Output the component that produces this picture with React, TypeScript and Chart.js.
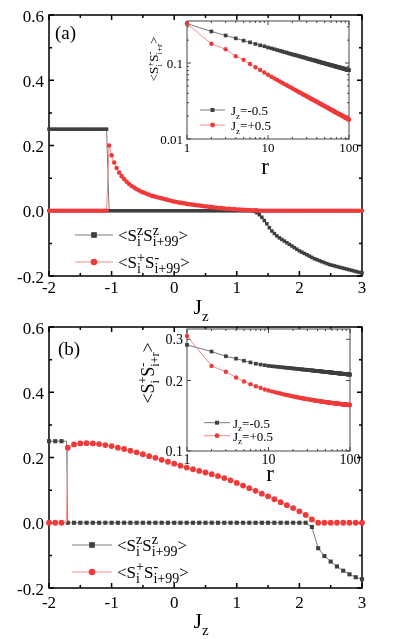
import React, { useEffect, useRef } from 'react';
import { Chart, registerables } from 'chart.js';
Chart.register(...registerables);

const FONT = '"Liberation Serif","Times New Roman",Times,serif';
const BLACK = '#3f3f3f';
const BLACK_LINE = '#7a7a7a';
const RED = '#f03a3a';
const RED_LINE = '#f58a8a';

// ---------- Panel (a) main: Jz grid (step 0.04) ----------
const jzA: number[] = Array.from({ length: 126 }, (_, k) => +(-2 + 0.04 * k).toFixed(2));
const szA: number[] = [
  0.25, 0.25, 0.25, 0.25, 0.25, 0.25, 0.25, 0.25, 0.25, 0.25, 0.25, 0.25,
  0.25, 0.25, 0.25, 0.25, 0.25, 0.25, 0.25, 0.25, 0.25, 0.25, 0.25, 0.25,
  0, 0, 0, 0, 0, 0, 0, 0, 0, 0,
  0, 0, 0, 0, 0, 0, 0, 0, 0, 0,
  0, 0, 0, 0, 0, 0, 0, 0, 0, 0,
  0, 0, 0, 0, 0, 0, 0, 0, 0, 0,
  0, 0, 0, 0, 0, 0, 0, 0, 0, 0,
  0, 0, 0, 0, 0, 0, 0, 0,
  -0.002, -0.006, -0.012, -0.020, -0.030, -0.040, -0.052, -0.062, -0.070, -0.077,
  -0.083, -0.088, -0.093, -0.098, -0.103, -0.108, -0.113, -0.118, -0.123, -0.127,
  -0.131, -0.135, -0.139, -0.143, -0.147, -0.150, -0.153, -0.156, -0.159, -0.162,
  -0.165, -0.167, -0.169, -0.171, -0.173, -0.175, -0.177, -0.179, -0.181, -0.183,
  -0.185, -0.187, -0.189, -0.191,
];
const spA: number[] = [
  0, 0, 0, 0, 0, 0, 0, 0, 0, 0,
  0, 0, 0, 0, 0, 0, 0, 0, 0, 0,
  0, 0, 0, 0,
  0.200, 0.170, 0.148, 0.131, 0.117, 0.106, 0.097, 0.089, 0.082, 0.076,
  0.071, 0.066, 0.062, 0.058, 0.055, 0.052, 0.049, 0.046, 0.044, 0.042,
  0.040, 0.038, 0.036, 0.034, 0.032, 0.030, 0.028, 0.027, 0.025, 0.024,
  0.023, 0.021, 0.020, 0.019, 0.018, 0.017, 0.016, 0.015, 0.014, 0.013,
  0.012, 0.011, 0.010, 0.009, 0.008, 0.008, 0.007, 0.006, 0.006, 0.005,
  0.005, 0.004, 0.004, 0.003, 0.003, 0.002, 0.002, 0.001, 0.001, 0.001,
  0, 0, 0, 0, 0, 0, 0, 0, 0, 0,
  0, 0, 0, 0, 0, 0, 0, 0, 0, 0,
  0, 0, 0, 0, 0, 0, 0, 0, 0, 0,
  0, 0, 0, 0, 0, 0, 0, 0, 0, 0,
  0, 0,
];

// ---------- Panel (b) main ----------
const jzB: number[] = [
  -2, -1.9, -1.8, -1.72, -1.7, -1.6, -1.5, -1.4, -1.3, -1.2, -1.1, -1, -0.9, -0.8, -0.7, -0.6,
  -0.5, -0.4, -0.3, -0.2, -0.1, 0, 0.1, 0.2, 0.3, 0.4, 0.5, 0.6, 0.7, 0.8, 0.9, 1, 1.1, 1.2,
  1.3, 1.4, 1.5, 1.6, 1.7, 1.8, 1.9, 2, 2.1, 2.2, 2.3, 2.4, 2.5, 2.6, 2.7, 2.8, 2.9, 3,
];
const szB: number[] = [
  0.25, 0.25, 0.25, 0.25,
  0, 0, 0, 0, 0, 0, 0, 0, 0, 0,
  0, 0, 0, 0, 0, 0, 0, 0, 0, 0,
  0, 0, 0, 0, 0, 0, 0, 0, 0, 0,
  0, 0, 0, 0, 0, 0, 0, 0, 0,
  -0.013, -0.078, -0.102, -0.119, -0.134, -0.147, -0.158, -0.167, -0.173,
];
const spB: number[] = [
  0, 0, 0, 0,
  0.230, 0.240, 0.243, 0.244, 0.243, 0.241, 0.238, 0.235, 0.230, 0.226,
  0.221, 0.216, 0.210, 0.204, 0.199, 0.193, 0.187, 0.181, 0.175, 0.169,
  0.164, 0.159, 0.154, 0.149, 0.143, 0.137, 0.130, 0.122, 0.114, 0.106,
  0.098, 0.089, 0.081, 0.072, 0.063, 0.054, 0.045, 0.035, 0.024, 0.010,
  0, 0, 0, 0, 0, 0, 0, 0,
];

// ---------- Insets: r = 1..100 ----------
const rInset: number[] = Array.from({ length: 100 }, (_, i) => i + 1);
const insetA_neg: number[] = [
  0.330, 0.260, 0.230, 0.211, 0.197, 0.187, 0.178, 0.171, 0.166, 0.160,
  0.156, 0.152, 0.148, 0.145, 0.142, 0.139, 0.137, 0.134, 0.132, 0.130,
  0.128, 0.127, 0.125, 0.123, 0.122, 0.120, 0.119, 0.118, 0.117, 0.115,
  0.114, 0.113, 0.112, 0.111, 0.110, 0.109, 0.108, 0.108, 0.107, 0.106,
  0.105, 0.104, 0.104, 0.103, 0.102, 0.101, 0.101, 0.100, 0.0995, 0.0989,
  0.0983, 0.0977, 0.0972, 0.0966, 0.0961, 0.0956, 0.0951, 0.0946, 0.0941, 0.0937,
  0.0932, 0.0928, 0.0924, 0.0920, 0.0916, 0.0911, 0.0907, 0.0903, 0.0899, 0.0895,
  0.0891, 0.0888, 0.0884, 0.0881, 0.0877, 0.0874, 0.0870, 0.0867, 0.0863, 0.0860,
  0.0857, 0.0854, 0.0851, 0.0848, 0.0845, 0.0841, 0.0838, 0.0835, 0.0832, 0.0829,
  0.0826, 0.0824, 0.0821, 0.0819, 0.0816, 0.0814, 0.0811, 0.0809, 0.0806, 0.0804,
];
const insetA_pos: number[] = [
  0.330, 0.179, 0.152, 0.123, 0.110, 0.097, 0.088, 0.081, 0.075, 0.070,
  0.0658, 0.0625, 0.0597, 0.0572, 0.0549, 0.0528, 0.0510, 0.0493, 0.0478, 0.0463,
  0.0450, 0.0438, 0.0427, 0.0416, 0.0406, 0.0397, 0.0388, 0.0380, 0.0373, 0.0366,
  0.0358, 0.0352, 0.0345, 0.0339, 0.0334, 0.0328, 0.0323, 0.0318, 0.0313, 0.0309,
  0.0304, 0.0300, 0.0296, 0.0292, 0.0288, 0.0284, 0.0281, 0.0277, 0.0274, 0.0271,
  0.0268, 0.0265, 0.0263, 0.0260, 0.0257, 0.0254, 0.0251, 0.0249, 0.0246, 0.0243,
  0.0241, 0.0239, 0.0237, 0.0235, 0.0232, 0.0230, 0.0228, 0.0226, 0.0224, 0.0222,
  0.0220, 0.0219, 0.0217, 0.0216, 0.0214, 0.0212, 0.0211, 0.0209, 0.0208, 0.0206,
  0.0205, 0.0203, 0.0202, 0.0200, 0.0199, 0.0198, 0.0196, 0.0195, 0.0193, 0.0192,
  0.0191, 0.0190, 0.0188, 0.0187, 0.0186, 0.0185, 0.0184, 0.0182, 0.0181, 0.0180,
];
const insetB_neg: number[] = [
  0.284, 0.266, 0.254, 0.248, 0.243, 0.239, 0.236, 0.234, 0.2325, 0.231,
  0.2302, 0.2295, 0.2288, 0.2282, 0.2277, 0.2271, 0.2266, 0.2261, 0.2257, 0.2253,
  0.2249, 0.2245, 0.2241, 0.2238, 0.2234, 0.2231, 0.2228, 0.2225, 0.2222, 0.2219,
  0.2217, 0.2214, 0.2211, 0.2209, 0.2207, 0.2204, 0.2202, 0.2200, 0.2198, 0.2196,
  0.2194, 0.2192, 0.2190, 0.2188, 0.2186, 0.2184, 0.2182, 0.2181, 0.2179, 0.2177,
  0.2176, 0.2174, 0.2172, 0.2171, 0.2169, 0.2168, 0.2166, 0.2165, 0.2164, 0.2162,
  0.2161, 0.2159, 0.2158, 0.2157, 0.2156, 0.2154, 0.2153, 0.2152, 0.2151, 0.2149,
  0.2148, 0.2147, 0.2146, 0.2145, 0.2144, 0.2143, 0.2142, 0.2140, 0.2139, 0.2138,
  0.2137, 0.2136, 0.2135, 0.2134, 0.2133, 0.2132, 0.2131, 0.2131, 0.2130, 0.2129,
  0.2128, 0.2127, 0.2126, 0.2125, 0.2124, 0.2123, 0.2123, 0.2122, 0.2121, 0.2120,
];
const insetB_pos: number[] = [
  0.310, 0.231, 0.218, 0.206, 0.198, 0.193, 0.189, 0.186, 0.183, 0.1814,
  0.1798, 0.1784, 0.1771, 0.1760, 0.1750, 0.1741, 0.1732, 0.1725, 0.1718, 0.1711,
  0.1705, 0.1699, 0.1694, 0.1689, 0.1685, 0.1680, 0.1676, 0.1672, 0.1669, 0.1665,
  0.1662, 0.1658, 0.1655, 0.1653, 0.1650, 0.1647, 0.1644, 0.1642, 0.1639, 0.1637,
  0.1635, 0.1633, 0.1631, 0.1629, 0.1627, 0.1625, 0.1623, 0.1622, 0.1620, 0.1618,
  0.1617, 0.1615, 0.1614, 0.1612, 0.1611, 0.1610, 0.1608, 0.1607, 0.1605, 0.1604,
  0.1603, 0.1602, 0.1601, 0.1600, 0.1598, 0.1597, 0.1596, 0.1595, 0.1594, 0.1593,
  0.1592, 0.1591, 0.1590, 0.1589, 0.1589, 0.1588, 0.1587, 0.1586, 0.1585, 0.1584,
  0.1583, 0.1583, 0.1582, 0.1581, 0.1581, 0.1580, 0.1579, 0.1578, 0.1578, 0.1577,
  0.1576, 0.1576, 0.1575, 0.1575, 0.1574, 0.1573, 0.1573, 0.1572, 0.1572, 0.1571,
];

// ---------- ticks ----------
const mainXMajor = [-2, -1, 0, 1, 2, 3];
const mainXLabels = ['-2', '-1', '0', '1', '2', '3'];
const mainXMinor = [-1.5, -0.5, 0.5, 1.5, 2.5];
const mainYMajor = [-0.2, 0, 0.2, 0.4, 0.6];
const mainYLabels = ['-0.2', '0.0', '0.2', '0.4', '0.6'];
const mainYMinor = [-0.1, 0.1, 0.3, 0.5];
const insetXMajor = [1, 10, 100];
const insetXLabels = ['1', '10', '100'];
const insetXMinor = [2, 3, 4, 5, 6, 7, 8, 9, 20, 30, 40, 50, 60, 70, 80, 90];
const insetAYMajor = [0.01, 0.1];
const insetAYLabels = ['0.01', '0.1'];
const insetAYMinor = [0.02, 0.03, 0.04, 0.05, 0.06, 0.07, 0.08, 0.09, 0.2, 0.3];
const insetBYMajor = [0.1, 0.2, 0.3];
const insetBYLabels = ['0.1', '0.2', '0.3'];
const insetBYMinor: number[] = [];

const legendMainZZ = '<S|i^z|S|i+99^z|>';
const legendMainPM = '<S|i^+|S|i+99^-|>';
const insetTitle = '<S|i^+|S|i+r^-|>';

type Seg = { t?: string; sub?: string; sup?: string };
function parseSegs(s: string): Seg[] {
  return s.split('|').map((p) => {
    if (p.includes('^')) {
      const [sub, sup] = p.split('^');
      return { sub, sup };
    }
    return { t: p };
  });
}

function drawRich(
  ctx: CanvasRenderingContext2D, segs: Seg[], x: number, y: number,
  size: number, sSize: number, align: 'left' | 'center' = 'left', color = '#000'
) {
  const fm = `${size}px ${FONT}`;
  const fs = `${sSize}px ${FONT}`;
  const widths = segs.map((s) => {
    if (s.t !== undefined) { ctx.font = fm; return ctx.measureText(s.t).width; }
    ctx.font = fs;
    return Math.max(s.sub ? ctx.measureText(s.sub).width : 0, s.sup ? ctx.measureText(s.sup).width : 0);
  });
  const total = widths.reduce((a, b) => a + b, 0);
  let cx = align === 'center' ? x - total / 2 : x;
  ctx.fillStyle = color;
  ctx.textAlign = 'left';
  ctx.textBaseline = 'alphabetic';
  segs.forEach((s, i) => {
    if (s.t !== undefined) { ctx.font = fm; ctx.fillText(s.t, cx, y); }
    else {
      ctx.font = fs;
      if (s.sup) ctx.fillText(s.sup, cx, y - 0.38 * size);
      if (s.sub) ctx.fillText(s.sub, cx, y + 0.3 * size);
    }
    cx += widths[i];
  });
}

function drawMarker(ctx: CanvasRenderingContext2D, kind: string, x: number, y: number, r: number, color: string) {
  ctx.fillStyle = color;
  if (kind === 'rect') {
    const h = r * Math.SQRT1_2;
    ctx.fillRect(x - h, y - h, 2 * h, 2 * h);
  } else {
    ctx.beginPath();
    ctx.arc(x, y, r, 0, Math.PI * 2);
    ctx.fill();
  }
}

function legendRow(
  ctx: CanvasRenderingContext2D, x1: number, x2: number, y: number, kind: string, r: number,
  color: string, lineColor: string, segs: Seg[], tx: number, baseline: number, size: number, sSize: number
) {
  ctx.strokeStyle = lineColor;
  ctx.lineWidth = 1;
  ctx.beginPath();
  ctx.moveTo(x1, y);
  ctx.lineTo(x2, y);
  ctx.stroke();
  drawMarker(ctx, kind, (x1 + x2) / 2, y, r, color);
  drawRich(ctx, segs, tx, baseline, size, sSize, 'left');
}

type Spec = {
  xMajor: number[]; xMinor: number[]; yMajor: number[]; yMinor: number[];
  xLabels: string[]; yLabels: string[];
  majorLen: number; minorLen: number; frameColor: string; frameWidth: number;
  labelSize: number; xLabelDy: number; yLabelDx: number; yLabelDy: number;
  fill: boolean;
  extra: (ctx: CanvasRenderingContext2D) => void;
};

function framePlugin(spec: Spec) {
  return {
    id: 'frameAxes',
    beforeDatasetsDraw(chart: any) {
      const { ctx, chartArea: a } = chart;
      const xs = chart.scales.x;
      const ys = chart.scales.y;
      ctx.save();
      if (spec.fill) {
        ctx.fillStyle = '#fff';
        ctx.fillRect(a.left, a.top, a.right - a.left, a.bottom - a.top);
      }
      ctx.strokeStyle = spec.frameColor;
      ctx.lineWidth = spec.frameWidth;
      ctx.beginPath();
      const vt = (vals: number[], len: number) => vals.forEach((v) => {
        const p = xs.getPixelForValue(v);
        ctx.moveTo(p, a.bottom); ctx.lineTo(p, a.bottom - len);
        ctx.moveTo(p, a.top); ctx.lineTo(p, a.top + len);
      });
      const ht = (vals: number[], len: number) => vals.forEach((v) => {
        const p = ys.getPixelForValue(v);
        ctx.moveTo(a.left, p); ctx.lineTo(a.left + len, p);
        ctx.moveTo(a.right, p); ctx.lineTo(a.right - len, p);
      });
      vt(spec.xMajor, spec.majorLen);
      vt(spec.xMinor, spec.minorLen);
      ht(spec.yMajor, spec.majorLen);
      ht(spec.yMinor, spec.minorLen);
      ctx.stroke();
      ctx.strokeRect(a.left, a.top, a.right - a.left, a.bottom - a.top);
      ctx.restore();
    },
    afterDatasetsDraw(chart: any) {
      const { ctx, chartArea: a } = chart;
      const xs = chart.scales.x;
      const ys = chart.scales.y;
      ctx.save();
      ctx.fillStyle = '#000';
      ctx.font = `${spec.labelSize}px ${FONT}`;
      ctx.textBaseline = 'alphabetic';
      ctx.textAlign = 'center';
      spec.xMajor.forEach((v, i) => ctx.fillText(spec.xLabels[i], xs.getPixelForValue(v), a.bottom + spec.xLabelDy));
      ctx.textAlign = 'right';
      spec.yMajor.forEach((v, i) => ctx.fillText(spec.yLabels[i], a.left - spec.yLabelDx, ys.getPixelForValue(v) + spec.yLabelDy));
      spec.extra(ctx);
      ctx.restore();
    },
  };
}

function series(xs: number[], ys: number[], color: string, lineColor: string, style: string, radius: any) {
  return {
    data: xs.map((x, i) => ({ x, y: ys[i] })),
    borderColor: lineColor,
    borderWidth: 1,
    pointStyle: style,
    pointRadius: radius,
    pointHoverRadius: 0,
    pointBackgroundColor: color,
    pointBorderColor: color,
    pointBorderWidth: 0,
    showLine: true,
    tension: 0,
    fill: false,
    clip: false,
  };
}

function makeChart(canvas: HTMLCanvasElement, datasets: any[], xScale: any, yScale: any, padding: any, spec: Spec) {
  return new Chart(canvas, {
    type: 'line',
    data: { datasets },
    options: {
      animation: false,
      responsive: false,
      maintainAspectRatio: false,
      events: [],
      layout: { padding },
      scales: { x: { ...xScale, display: false }, y: { ...yScale, display: false } },
      plugins: { legend: { display: false }, tooltip: { enabled: false } },
    } as any,
    plugins: [framePlugin(spec) as any],
  });
}

export default function App() {
  const refA = useRef<HTMLCanvasElement>(null);
  const refB = useRef<HTMLCanvasElement>(null);
  const refIA = useRef<HTMLCanvasElement>(null);
  const refIB = useRef<HTMLCanvasElement>(null);

  useEffect(() => {
    const charts: Chart[] = [];
    let alive = true;
    const mainX = { type: 'linear', min: -2, max: 3 };
    const mainY = { type: 'linear', min: -0.2, max: 0.6 };
    const mainSpecBase = {
      xMajor: mainXMajor, xMinor: mainXMinor, yMajor: mainYMajor, yMinor: mainYMinor,
      xLabels: mainXLabels, yLabels: mainYLabels, majorLen: 5, minorLen: 3,
      frameColor: '#000', frameWidth: 1.5, labelSize: 17, yLabelDx: 5, yLabelDy: 6.5, fill: false,
    };

    // Panel (a)
    charts.push(makeChart(
      refA.current!,
      [
        series(jzA, spA, RED, RED_LINE, 'circle', 2.3),
        series(jzA, szA, BLACK, BLACK_LINE, 'rect', 2.5),
      ],
      mainX, mainY, { left: 49, top: 15, right: 37, bottom: 54 },
      {
        ...mainSpecBase, xLabelDy: 16.5,
        extra: (ctx) => {
          drawRich(ctx, [{ t: '(a)' }], 55, 39, 19, 13);
          legendRow(ctx, 75, 113, 235, 'rect', 4, BLACK, BLACK_LINE, parseSegs(legendMainZZ), 118, 241, 17, 14);
          legendRow(ctx, 75, 113, 262, 'circle', 3.3, RED, RED_LINE, parseSegs(legendMainPM), 118, 268, 17, 14);
          drawRich(ctx, [{ t: 'J' }, { sub: 'z' }], 201, 314, 22, 15, 'center');
        },
      }
    ));

    // Panel (b)
    const radB = jzB.map((x) => (x === -1.72 ? 0 : 2.9));
    charts.push(makeChart(
      refB.current!,
      [
        series(jzB, spB, RED, RED_LINE, 'circle', radB),
        series(jzB, szB, BLACK, BLACK_LINE, 'rect', radB),
      ],
      mainX, mainY, { left: 49, top: 7, right: 37, bottom: 51 },
      {
        ...mainSpecBase, xLabelDy: 19.5,
        extra: (ctx) => {
          drawRich(ctx, [{ t: '(b)' }], 58, 35, 19, 13);
          legendRow(ctx, 72, 112, 225, 'rect', 4, BLACK, BLACK_LINE, parseSegs(legendMainZZ), 117, 230.5, 17, 14);
          legendRow(ctx, 72, 112, 252, 'circle', 3.3, RED, RED_LINE, parseSegs(legendMainPM), 117, 257.5, 17, 14);
          drawRich(ctx, [{ t: 'J' }, { sub: 'z' }], 201, 308, 22, 15, 'center');
        },
      }
    ));

    const insetX = { type: 'logarithmic', min: 1, max: 100 };

    // Inset (a)
    charts.push(makeChart(
      refIA.current!,
      [
        series(rInset, insetA_pos, RED, RED_LINE, 'circle', 2.2),
        series(rInset, insetA_neg, BLACK, BLACK_LINE, 'rect', 2.6),
      ],
      insetX, { type: 'logarithmic', min: 0.01, max: 0.357 }, { left: 57, top: 16, right: 21, bottom: 41 },
      {
        xMajor: insetXMajor, xMinor: insetXMinor, yMajor: insetAYMajor, yMinor: insetAYMinor,
        xLabels: insetXLabels, yLabels: insetAYLabels, majorLen: 4, minorLen: 2,
        frameColor: '#444', frameWidth: 1, labelSize: 13, xLabelDy: 12.5, yLabelDx: 4, yLabelDy: 4.5, fill: true,
        extra: (ctx) => {
          ctx.save();
          ctx.translate(24, 54);
          ctx.rotate(-Math.PI / 2);
          drawRich(ctx, parseSegs(insetTitle), 0, 4, 13, 9, 'center');
          ctx.restore();
          drawRich(ctx, [{ t: 'r' }], 135, 169, 23, 15, 'center');
          legendRow(ctx, 70, 95, 105, 'rect', 2.8, BLACK, BLACK_LINE, [{ t: 'J' }, { sub: 'z' }, { t: '=-0.5' }], 101, 110, 13, 9);
          legendRow(ctx, 70, 95, 120, 'circle', 2.4, RED, RED_LINE, [{ t: 'J' }, { sub: 'z' }, { t: '=+0.5' }], 101, 125, 13, 9);
        },
      }
    ));

    // Inset (b)
    charts.push(makeChart(
      refIB.current!,
      [
        series(rInset, insetB_pos, RED, RED_LINE, 'circle', 2.2),
        series(rInset, insetB_neg, BLACK, BLACK_LINE, 'rect', 2.6),
      ],
      insetX, { type: 'logarithmic', min: 0.1, max: 0.332 }, { left: 57, top: 11, right: 20, bottom: 42 },
      {
        xMajor: insetXMajor, xMinor: insetXMinor, yMajor: insetBYMajor, yMinor: insetBYMinor,
        xLabels: insetXLabels, yLabels: insetBYLabels, majorLen: 4, minorLen: 2,
        frameColor: '#444', frameWidth: 1, labelSize: 14, xLabelDy: 13, yLabelDx: 4, yLabelDy: 5, fill: true,
        extra: (ctx) => {
          ctx.save();
          ctx.translate(18, 55);
          ctx.rotate(-Math.PI / 2);
          drawRich(ctx, parseSegs(insetTitle), 0, 5.5, 18, 12, 'center');
          ctx.restore();
          drawRich(ctx, [{ t: 'r' }], 140, 163, 23, 15, 'center');
          legendRow(ctx, 74, 100, 104.7, 'rect', 2.8, BLACK, BLACK_LINE, [{ t: 'J' }, { sub: 'z' }, { t: '=-0.5' }], 103, 109.5, 13, 9);
          legendRow(ctx, 74, 100, 117.7, 'circle', 2.4, RED, RED_LINE, [{ t: 'J' }, { sub: 'z' }, { t: '=+0.5' }], 103, 122.5, 13, 9);
        },
      }
    ));

    // make sure the serif font is loaded, then redraw with it
    const fs: any = (document as any).fonts;
    if (fs && fs.load) {
      Promise.all([
        fs.load(`17px "Liberation Serif"`),
        fs.load(`13px "Liberation Serif"`),
      ]).then(() => { if (alive) charts.forEach((c) => c.draw()); }).catch(() => {});
    }

    return () => { alive = false; charts.forEach((c) => c.destroy()); };
  }, []);

  const abs = (left: number, top: number, w: number, h: number): React.CSSProperties => ({
    position: 'absolute', left, top, width: w, height: h,
  });

  return (
    <div style={{ position: 'fixed', left: 0, top: 0, width: 399, height: 639, background: '#fff', overflow: 'hidden', fontFamily: FONT }}>
      <span style={{ position: 'absolute', left: -1000, top: 0, fontFamily: '"Liberation Serif"' }}>.</span>
      <canvas ref={refA} width={399} height={330} style={abs(0, 0, 399, 330)} />
      <canvas ref={refB} width={399} height={319} style={abs(0, 320, 399, 319)} />
      <canvas ref={refIA} width={240} height={175} style={abs(130, 5, 240, 175)} />
      <canvas ref={refIB} width={240} height={175} style={abs(130, 318, 240, 175)} />
    </div>
  );
}
